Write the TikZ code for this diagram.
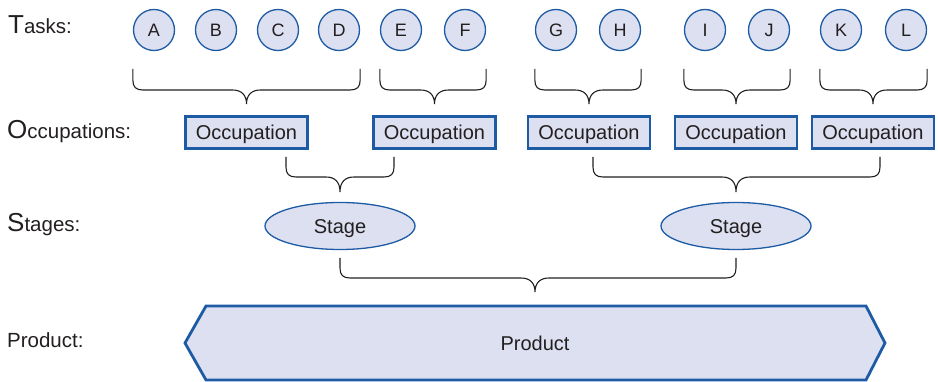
\documentclass[tikz,border=0pt]{standalone}
\usepackage{fontspec}
\setmainfont{Liberation Sans}
\usetikzlibrary{shapes.geometric,calc}
\definecolor{fillc}{HTML}{DCE0F0}
\definecolor{edgec}{HTML}{1D5BA4}
\definecolor{txt}{HTML}{231F20}
\newcommand\mybrace[6]{%
 \draw[brace] let \p1=(#1), \p2=(#2), \p3=(#3) in
 (\x1,-#4pt) -- (\x1,-#5pt+10pt) .. controls (\x1,-#5pt+3pt) and (\x1+3pt,-#5pt) .. (\x1+10pt,-#5pt)
 -- (\x3-14pt,-#5pt) .. controls (\x3-5pt,-#5pt) and (\x3,-#5pt-5pt) .. (\x3,-#6pt)
 .. controls (\x3,-#5pt-5pt) and (\x3+5pt,-#5pt) .. (\x3+14pt,-#5pt)
 -- (\x2-10pt,-#5pt) .. controls (\x2-3pt,-#5pt) and (\x2,-#5pt+3pt) .. (\x2,-#5pt+10pt) -- (\x2,-#4pt);}
\begin{document}
\begin{tikzpicture}[x=1pt,y=-1pt,
 task/.style={circle,draw=edgec,fill=fillc,line width=1.3pt,minimum size=41pt,inner sep=0pt,
   font=\fontsize{18}{18}\selectfont,text=txt},
 occ/.style={rectangle,draw=edgec,fill=fillc,line width=2.8pt,minimum width=122pt,minimum height=32pt,
   inner sep=0pt,text height=14.3pt,text depth=0pt,font=\fontsize{20}{20}\selectfont,text=txt},
 stg/.style={ellipse,draw=edgec,fill=fillc,line width=1.3pt,minimum width=150pt,minimum height=47pt,
   inner sep=0pt,text height=14.3pt,text depth=0pt,font=\fontsize{20}{20}\selectfont,text=txt},
 lbl/.style={anchor=base west,inner sep=0pt,font=\fontsize{20.5}{20.5}\selectfont,text=txt},
 brace/.style={draw=txt,line width=1.1pt}]
\useasboundingbox (0,0) rectangle (938,382);
% labels
\node[lbl] (lt) at (8,34) {{\fontsize{26}{26}\selectfont T}asks:};
\node[lbl] (lo) at (7,139) {{\fontsize{26}{26}\selectfont O}ccupations:};
\node[lbl] (ls) at (7,232) {{\fontsize{26}{26}\selectfont S}tages:};
\node[lbl] (lp) at (7,348) {Product:};
% tasks
\node[task] (A) at (154,30) {A};
\node[task] (B) at (216,30) {B};
\node[task] (C) at (278,30) {C};
\node[task] (D) at (339,30) {D};
\node[task] (E) at (401,30) {E};
\node[task] (F) at (465,30) {F};
\node[task] (G) at (556,30) {G};
\node[task] (H) at (620,30) {H};
\node[task] (I) at (705,30) {I};
\node[task] (J) at (769,30) {J};
\node[task] (K) at (841,30) {K};
\node[task] (L) at (906,30) {L};
% occupations
\node[occ] (O1) at (246.5,132.5) {Occupation};
\node[occ] (O2) at (434.5,132.5) {Occupation};
\node[occ] (O3) at (589,132.5) {Occupation};
\node[occ] (O4) at (736,132.5) {Occupation};
\node[occ] (O5) at (873,132.5) {Occupation};
% stages
\node[stg] (S1) at (340,226) {Stage};
\node[stg] (S2) at (736,226) {Stage};
% product
\draw[draw=edgec,fill=fillc,line width=2.8pt,line join=miter]
  (185,343) -- (206,306) -- (866,306) -- (885,343) -- (866,380) -- (206,380) -- cycle;
\node[inner sep=0pt,text height=14.3pt,text depth=0pt,font=\fontsize{20}{20}\selectfont,text=txt] (P) at (535,343) {Product};
% braces tasks -> occupations
\mybrace{A.west}{D.east}{O1.north}{69}{90}{104}
\mybrace{E.west}{F.east}{O2.north}{69}{90}{104}
\mybrace{G.west}{H.east}{O3.north}{69}{90}{104}
\mybrace{I.west}{J.east}{O4.north}{69}{90}{104}
\mybrace{K.west}{L.east}{O5.north}{69}{90}{104}
% braces occupations -> stages
\mybrace{286,0}{394,0}{S1.north}{157}{177}{192}
\mybrace{593,0}{880,0}{S2.north}{157}{177}{192}
% brace stages -> product
\mybrace{S1.south}{S2.south}{P}{258}{278}{292}
\end{tikzpicture}
\end{document}
